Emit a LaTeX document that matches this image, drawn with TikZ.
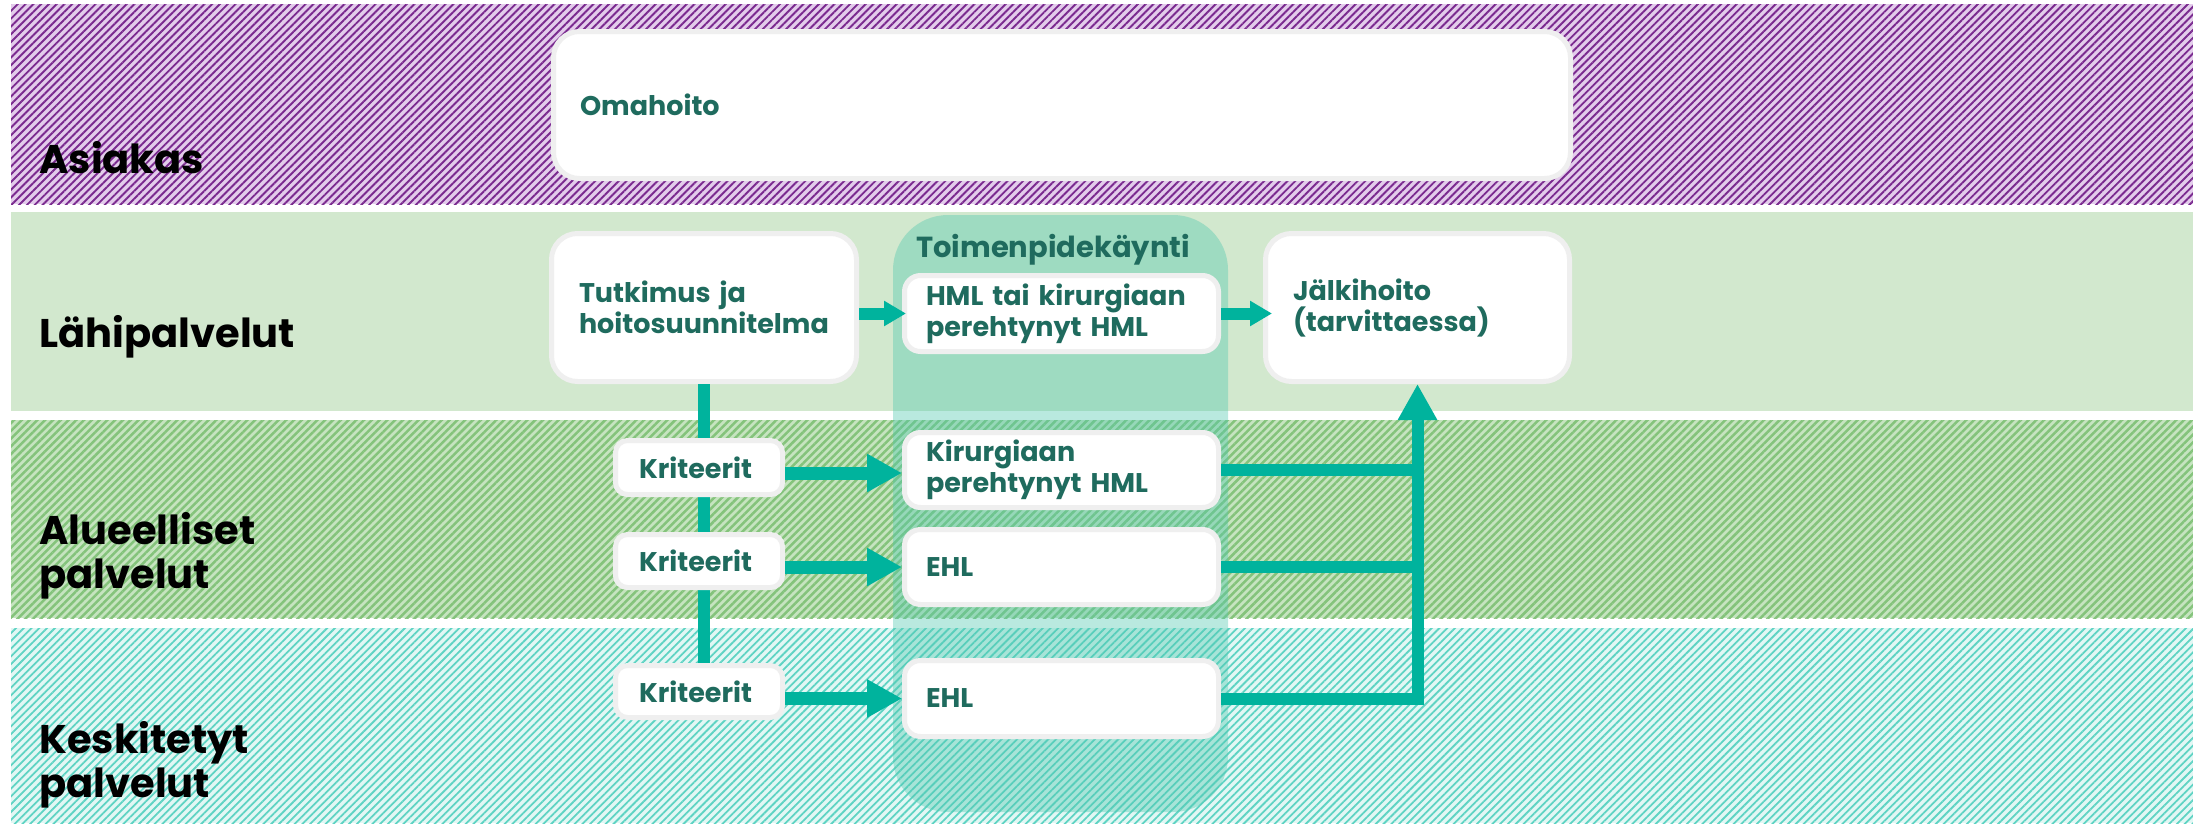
\documentclass[tikz,border=0pt]{standalone}
\usepackage{fontspec}
\setmainfont{Poppins}
\usetikzlibrary{arrows.meta,patterns.meta}
\definecolor{purplebg}{HTML}{E3CCEB}
\definecolor{purpleline}{HTML}{7A2A8F}
\definecolor{lightgreen}{HTML}{D2E8CE}
\definecolor{greenbg}{HTML}{C6E4C0}
\definecolor{greenline}{HTML}{84C37B}
\definecolor{tealbg}{HTML}{E2F7F4}
\definecolor{tealline}{HTML}{5ED3C3}
\definecolor{colfill}{HTML}{50C8AF}
\definecolor{boxgray}{HTML}{EFEFEF}
\definecolor{txt}{HTML}{1F6B5E}
\definecolor{arr}{HTML}{00B39D}
\hyphenpenalty=10000
\exhyphenpenalty=10000
\begin{document}
\begin{tikzpicture}[x=1pt,y=-1pt,
  hatch/.style={pattern={Lines[angle=45,distance=5.5pt,line width=#1]}},
  bandlabel/.style={anchor=base west,align=left,inner sep=0pt,text=black,
    font=\fontsize{40}{44}\selectfont\bfseries},
  bx/.style={draw=boxgray,line width=5pt,fill=white,text=txt,align=left,
    inner ysep=0pt,font=\fontsize{27}{31}\selectfont\bfseries},
  bigbox/.style={bx,rounded corners=26pt,minimum height=148pt,inner xsep=27.5pt,text width=250pt},
  midbox/.style={bx,rounded corners=16pt,minimum height=76pt,inner xsep=21.5pt,text width=271pt},
  kbox/.style={bx,rounded corners=12pt,minimum height=54pt,inner xsep=23.5pt,text width=120pt},
  conn/.style={draw=arr,line width=12pt},
  smallhead/.style={-{Triangle[length=22pt,width=24pt]}},
  bighead/.style={line width=13pt,-{Triangle[length=35pt,width=36pt]}},
  uphead/.style={-{Triangle[length=36pt,width=37pt]}},
  column/.style={fill=colfill,fill opacity=0.4,rounded corners=55pt,inner sep=0pt,
    minimum width=335pt,minimum height=597pt}
]
\useasboundingbox (0,0) rectangle (2193,823);
% bands
\fill[purplebg] (11,4) rectangle (2193,204);
\fill[hatch=1.9pt,pattern color=purpleline] (11,4) rectangle (2193,204);
\fill[lightgreen] (11,212) rectangle (2193,411);
\fill[greenbg] (11,420) rectangle (2193,618);
\fill[hatch=2.5pt,pattern color=greenline] (11,420) rectangle (2193,618);
\fill[tealbg] (11,628) rectangle (2193,823);
\fill[hatch=1.8pt,pattern color=tealline] (11,628) rectangle (2193,823);
% band labels
\node[bandlabel] (l1) at (39,173) {Asiakas};
\node[bandlabel] (l2) at (39,347) {Lähipalvelut};
\node[bandlabel] (l3) at (39,588) {Alueelliset\\palvelut};
\node[bandlabel] (l4) at (39,797) {Keskitetyt\\palvelut};
% column
\node[column] (col) at (1060.5,513.5) {};
\node[anchor=base west,inner sep=0pt,text=txt,font=\fontsize{29}{33}\selectfont\bfseries] (colhead) at (916,257) {Toimenpidekäynti};
% boxes
\node[bigbox,minimum height=147pt,text width=964pt,inner xsep=26.5pt] (oma) at (1062,105) {Omahoito};
\node[bigbox] (tutk) at (704,307.5) {Tutkimus ja\\hoitosuunnitelma};
\node[bigbox,text width=249pt] (jalki) at (1417.5,307.5) {Jälkihoito\\(tarvittaessa)};
% vertical line behind criteria
\draw[conn] (tutk.south) -- (tutk.south |- 0,663);
\node[midbox] (hml) at (1061.5,313.5) {HML tai kirurgiaan\\perehtynyt HML};
\node[midbox,minimum height=75pt] (kir) at (1061.5,470) {Kirurgiaan\\perehtynyt HML};
\node[midbox,minimum height=75pt] (ehl1) at (1061.5,567) {EHL};
\node[midbox] (ehl2) at (1061.5,698.5) {EHL};
\node[kbox] (k1) at (699,467.5) {Kriteerit};
\node[kbox,minimum height=53pt] (k2) at (699,561) {Kriteerit};
\node[kbox,minimum height=52pt] (k3) at (699,691.5) {Kriteerit};
% arrows
\draw[conn,smallhead,shorten >=-4pt] (tutk.east |- hml.west) -- (hml.west);
\draw[conn,smallhead,shorten >=-9pt] (hml.east) -- (hml.east -| jalki.west);
\draw[conn,bighead] (k1.east |- 0,473) -- (kir.west |- 0,473);
\draw[conn,bighead] (k2.east |- ehl1.west) -- (ehl1.west);
\draw[conn,bighead] (k3.east |- ehl2.west) -- (ehl2.west);
\draw[conn] (kir.east) -- (kir.east -| jalki.south);
\draw[conn] (ehl1.east) -- (ehl1.east -| jalki.south);
\draw[conn,uphead,line join=miter] (ehl2.east) -| (jalki.south);
\end{tikzpicture}
\end{document}
